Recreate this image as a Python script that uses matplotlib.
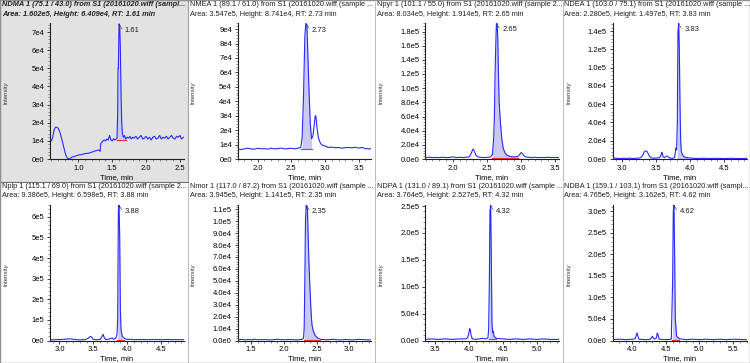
import matplotlib
matplotlib.use('Agg')
import matplotlib.pyplot as plt
from matplotlib.ticker import AutoMinorLocator, FixedLocator, FixedFormatter

plt.rcParams['font.family'] = ['Liberation Sans', 'DejaVu Sans']

# ---------------- data ----------------
titles_line1 = [
    "NDMA 1 (75.1 / 43.0) from S1 (20161020.wiff (sampl...",
    "NMEA 1 (89.1 / 61.0) from S1 (20161020.wiff (sample ...",
    "Npyr 1 (101.1 / 55.0) from S1 (20161020.wiff (sample 2...",
    "NDEA 1 (103.0 / 75.1) from S1 (20161020.wiff (sample ...",
    "Npip 1 (115.1 / 69.0) from S1 (20161020.wiff (sample 2...",
    "Nmor 1 (117.0 / 87.2) from S1 (20161020.wiff (sample ...",
    "NDPA 1 (131.0 / 89.1) from S1 (20161020.wiff (sample ...",
    "NDBA 1 (159.1 / 103.1) from S1 (20161020.wiff (sampl...",
]
titles_line2 = [
    "Area: 1.602e5, Height: 6.409e4, RT: 1.61 min",
    "Area: 3.547e5, Height: 8.741e4, RT: 2.73 min",
    "Area: 8.034e5, Height: 1.914e5, RT: 2.65 min",
    "Area: 2.280e5, Height: 1.497e5, RT: 3.83 min",
    "Area: 9.386e5, Height: 6.598e5, RT: 3.88 min",
    "Area: 3.945e5, Height: 1.141e5, RT: 2.35 min",
    "Area: 3.764e5, Height: 2.527e5, RT: 4.32 min",
    "Area: 4.765e5, Height: 3.162e5, RT: 4.62 min",
]
rt_labels = ["1.61", "2.73", "2.65", "3.83", "3.88", "2.35", "4.32", "4.62"]
rt_values = [1.605, 2.725, 2.645, 3.83, 3.88, 2.345, 4.32, 4.62]
intensity_scale = [1e4, 1e4, 1e4, 1e4, 1e5, 1e4, 1e5, 1e5]

# chromatogram traces: (time [min], intensity [x scale])
ndma = [(0.60,1.0),(0.62,1.2),(0.64,1.6),(0.66,1.75),(0.68,1.75),(0.70,1.7),(0.72,1.55),(0.74,1.3),
        (0.76,1.0),(0.78,0.7),(0.80,0.4),(0.82,0.15),(0.84,0.05),(0.86,0.0),(0.88,0.03),(0.90,0.1),
        (0.95,0.15),(1.00,0.22),(1.05,0.25),(1.10,0.3),(1.15,0.32),(1.20,0.38),(1.25,0.45),(1.30,0.5),
        (1.32,0.42),(1.33,0.85),(1.35,0.95),(1.38,1.05),(1.40,1.0),(1.42,1.1),(1.44,1.05),(1.46,1.3),
        (1.48,1.05),(1.50,1.0),(1.52,1.12),(1.54,1.05),(1.56,1.1),(1.57,1.15),(1.58,2.5),(1.585,5.0),
        (1.59,5.0),(1.60,7.45),(1.61,7.35),(1.62,6.0),(1.63,3.5),(1.64,2.0),(1.65,1.4),(1.66,1.25),
        (1.67,1.2),(1.68,1.3),(1.70,1.1),(1.72,1.2),(1.74,1.15),(1.76,1.25),(1.78,1.1),(1.80,1.2),
        (1.825,1.15),(1.85,1.25),(1.875,1.1),(1.90,1.2),(1.925,1.3),(1.95,1.1),(1.975,1.15),(2.00,1.25),
        (2.025,1.1),(2.05,1.2),(2.075,1.05),(2.10,1.2),(2.125,1.25),(2.15,1.1),(2.175,1.15),(2.20,1.3),
        (2.225,1.1),(2.25,1.2),(2.275,1.15),(2.30,1.25),(2.325,1.1),(2.35,1.2),(2.375,1.3),(2.40,1.15),
        (2.425,1.1),(2.45,1.25),(2.475,1.2),(2.50,1.3),(2.525,1.1),(2.55,1.2)]
nmea = [(1.70,0.7),(1.75,0.65),(1.80,0.7),(1.85,0.75),(1.90,0.7),(1.95,0.68),(2.00,0.75),(2.05,0.7),
        (2.10,0.72),(2.15,0.68),(2.20,0.75),(2.25,0.7),(2.30,0.72),(2.35,0.76),(2.40,0.7),(2.45,0.72),
        (2.50,0.75),(2.55,0.7),(2.60,0.75),(2.64,0.8),(2.66,1.5),(2.68,4.3),(2.70,8.5),(2.715,9.4),
        (2.73,9.3),(2.74,8.0),(2.76,5.0),(2.78,2.5),(2.80,1.4),(2.82,1.6),(2.84,2.4),(2.855,3.0),
        (2.865,2.95),(2.88,2.2),(2.90,1.5),(2.93,1.1),(2.96,0.95),(3.00,0.9),(3.05,0.8),(3.10,0.82),
        (3.15,0.78),(3.20,0.8),(3.25,0.75),(3.30,0.78),(3.35,0.8),(3.40,0.78),(3.45,0.82),(3.50,0.75),
        (3.55,0.8),(3.60,0.72),(3.65,0.7),(3.68,0.72)]
npyr = [(1.59,0.2),(1.65,0.25),(1.70,0.2),(1.75,0.22),(1.80,0.2),(1.85,0.25),(1.90,0.2),(1.95,0.22),
        (2.00,0.3),(2.05,0.2),(2.10,0.25),(2.15,0.2),(2.20,0.25),(2.24,0.3),(2.27,0.8),(2.29,1.3),
        (2.30,1.4),(2.32,1.0),(2.34,0.5),(2.37,0.3),(2.40,0.25),(2.45,0.2),(2.50,0.22),(2.55,0.3),
        (2.58,0.6),(2.60,3.0),(2.61,6.0),(2.62,12.0),(2.63,16.0),(2.64,19.2),(2.65,19.1),(2.66,17.0),
        (2.67,12.0),(2.68,8.0),(2.70,5.0),(2.72,2.8),(2.74,1.5),(2.77,0.8),(2.80,0.5),(2.85,0.35),
        (2.90,0.3),(2.95,0.35),(2.98,0.6),(3.00,0.9),(3.02,0.8),(3.04,0.5),(3.07,0.3),(3.10,0.25),
        (3.15,0.2),(3.20,0.25),(3.25,0.2),(3.30,0.22),(3.35,0.2),(3.40,0.25),(3.45,0.2),(3.50,0.22),
        (3.56,0.2)]
ndea = [(2.86,0.05),(2.90,0.1),(2.95,0.05),(3.00,0.08),(3.05,0.05),(3.10,0.1),(3.15,0.05),(3.20,0.08),
        (3.25,0.1),(3.28,0.2),(3.30,0.4),(3.32,0.75),(3.34,0.88),(3.36,0.85),(3.38,0.6),(3.40,0.3),
        (3.42,0.15),(3.45,0.08),(3.50,0.1),(3.55,0.15),(3.57,0.4),(3.58,0.75),(3.59,0.6),(3.60,0.25),
        (3.62,0.15),(3.645,0.3),(3.66,0.32),(3.68,0.2),(3.70,0.1),(3.74,0.08),(3.77,0.15),(3.79,1.2),
        (3.80,1.0),(3.81,4.0),(3.82,14.0),(3.83,14.9),(3.84,12.0),(3.85,6.0),(3.86,2.0),(3.87,0.8),
        (3.89,0.4),(3.92,0.2),(3.96,0.15),(4.00,0.1),(4.05,0.08),(4.10,0.05),(4.20,0.08),(4.30,0.05),
        (4.40,0.07),(4.50,0.05),(4.60,0.08),(4.70,0.05),(4.83,0.06)]
npip = [(2.86,0.03),(2.95,0.04),(3.05,0.05),(3.10,0.07),(3.15,0.08),(3.20,0.06),(3.25,0.04),(3.30,0.03),
        (3.38,0.04),(3.42,0.1),(3.46,0.2),(3.48,0.15),(3.50,0.05),(3.55,0.04),(3.60,0.05),(3.62,0.15),
        (3.645,0.3),(3.66,0.15),(3.68,0.05),(3.72,0.06),(3.76,0.1),(3.78,0.12),(3.80,0.06),(3.83,0.1),
        (3.85,0.3),(3.86,1.0),(3.87,6.3),(3.88,6.6),(3.89,5.0),(3.90,1.5),(3.91,0.5),(3.93,0.2),
        (3.96,0.1),(4.00,0.05),(4.05,0.06),(4.10,0.04),(4.20,0.05),(4.30,0.04),(4.40,0.05),(4.50,0.04),
        (4.60,0.05),(4.70,0.04),(4.84,0.04)]
nmor = [(1.29,0.05),(1.35,0.1),(1.40,0.05),(1.45,0.08),(1.50,0.05),(1.55,0.1),(1.60,0.06),(1.70,0.08),
        (1.80,0.05),(1.90,0.1),(2.00,0.06),(2.10,0.08),(2.20,0.05),(2.28,0.1),(2.30,0.2),(2.31,1.0),
        (2.32,5.0),(2.33,10.0),(2.34,11.3),(2.345,11.4),(2.36,11.0),(2.37,9.0),(2.38,7.0),(2.39,5.5),
        (2.40,4.2),(2.41,3.0),(2.42,2.0),(2.43,1.3),(2.45,0.8),(2.48,0.4),(2.52,0.2),(2.56,0.1),
        (2.65,0.06),(2.75,0.1),(2.85,0.05),(2.95,0.08),(3.05,0.05),(3.15,0.1),(3.25,0.06),(3.34,0.05)]
ndpa = [(3.35,0.02),(3.45,0.03),(3.55,0.02),(3.65,0.03),(3.75,0.02),(3.85,0.03),(3.95,0.03),(3.98,0.05),
        (4.00,0.15),(4.01,0.22),(4.02,0.2),(4.03,0.1),(4.05,0.03),(4.10,0.02),(4.15,0.03),(4.20,0.04),
        (4.25,0.03),(4.28,0.05),(4.29,0.2),(4.30,1.0),(4.31,2.4),(4.32,2.53),(4.33,1.5),(4.34,0.3),
        (4.35,0.15),(4.36,0.17),(4.37,0.08),(4.40,0.04),(4.50,0.03),(4.60,0.02),(4.70,0.03),(4.80,0.02),
        (4.90,0.03),(5.00,0.02),(5.10,0.03),(5.20,0.02),(5.33,0.02)]
ndba = [(3.71,0.02),(3.80,0.03),(3.90,0.02),(4.00,0.03),(4.04,0.04),(4.06,0.12),(4.07,0.18),(4.08,0.12),
        (4.10,0.03),(4.20,0.02),(4.27,0.03),(4.29,0.08),(4.30,0.1),(4.31,0.06),(4.33,0.03),(4.36,0.06),
        (4.37,0.17),(4.38,0.15),(4.40,0.03),(4.50,0.02),(4.58,0.03),(4.60,1.35),(4.61,3.0),(4.62,3.16),
        (4.63,2.0),(4.64,0.5),(4.66,0.1),(4.70,0.04),(4.80,0.02),(4.90,0.03),(5.00,0.02),(5.10,0.03),
        (5.20,0.02),(5.30,0.03),(5.40,0.02),(5.50,0.03),(5.70,0.02)]
traces = [ndma, nmea, npyr, ndea, npip, nmor, ndpa, ndba]

# integrated peak window (start, end) and baseline level (x scale)
peak_start = [1.57, 2.65, 2.575, 3.805, 3.855, 2.305, 4.295, 4.59]
peak_end = [1.70, 2.81, 2.95, 3.97, 3.95, 2.55, 4.40, 4.70]
peak_base = [1.05, 0.72, 0.2, 0.05, 0.03, 0.05, 0.02, 0.02]

x_ticks = [[1.0, 1.5, 2.0, 2.5], [2.0, 2.5, 3.0, 3.5], [2.0, 2.5, 3.0, 3.5], [3.0, 3.5, 4.0, 4.5],
           [3.0, 3.5, 4.0, 4.5], [1.5, 2.0, 2.5, 3.0], [3.5, 4.0, 4.5, 5.0], [4.0, 4.5, 5.0, 5.5]]
y_ticks = [[0, 1, 2, 3, 4, 5, 6, 7],
           [0, 1, 2, 3, 4, 5, 6, 7, 8, 9],
           [0, 2, 4, 6, 8, 10, 12, 14, 16, 18],
           [0, 2, 4, 6, 8, 10, 12, 14],
           [0, 1, 2, 3, 4, 5, 6],
           [0, 1, 2, 3, 4, 5, 6, 7, 8, 9, 10, 11],
           [0, 0.5, 1.0, 1.5, 2.0, 2.5],
           [0, 0.5, 1.0, 1.5, 2.0, 2.5, 3.0]]
y_tick_labels = [["0e0", "1e4", "2e4", "3e4", "4e4", "5e4", "6e4", "7e4"],
                 ["0e0", "1e4", "2e4", "3e4", "4e4", "5e4", "6e4", "7e4", "8e4", "9e4"],
                 ["0.0e0", "2.0e4", "4.0e4", "6.0e4", "8.0e4", "1.0e5", "1.2e5", "1.4e5", "1.6e5", "1.8e5"],
                 ["0.0e0", "2.0e4", "4.0e4", "6.0e4", "8.0e4", "1.0e5", "1.2e5", "1.4e5"],
                 ["0e0", "1e5", "2e5", "3e5", "4e5", "5e5", "6e5"],
                 ["0.0e0", "1.0e4", "2.0e4", "3.0e4", "4.0e4", "5.0e4", "6.0e4", "7.0e4", "8.0e4", "9.0e4",
                  "1.0e5", "1.1e5"],
                 ["0.0e0", "5.0e4", "1.0e5", "1.5e5", "2.0e5", "2.5e5"],
                 ["0.0e0", "5.0e4", "1.0e5", "1.5e5", "2.0e5", "2.5e5", "3.0e5"]]

# ---------------- layout / style ----------------
W, H = 750, 363
fig = plt.figure(figsize=(W / 100, H / 100), dpi=100)
fig.patch.set_facecolor('white')

x_lims = [(0.58, 2.56), (1.70, 3.69), (1.59, 3.56), (2.855, 4.83),
          (2.86, 4.84), (1.29, 3.34), (3.35, 5.33), (3.705, 5.70)]
y_tops = [7.5, 9.42, 19.2, 14.9, 6.6, 11.4, 2.53, 3.16]
col_x = [0, 187.5, 375, 562.5]
row_y = [0, 181.5]
LINE = '#2828ff'
FILL = '#c9c9f2'
FS = 5.3

def fx(px):
    return px / W

def fy(py):
    return 1 - py / H

# selected panel background
sel = plt.Rectangle((fx(0), fy(181.5)), fx(187.5), 181.5 / H, transform=fig.transFigure,
                    facecolor='#e2e2e2', edgecolor='#707070', lw=0.8, zorder=-10)
fig.add_artist(sel)

for i in range(8):
    r, c = divmod(i, 4)
    px, py = col_x[c], row_y[r]
    # separator lines
    fig.add_artist(plt.Line2D([fx(px + 187.5), fx(px + 187.5)], [fy(py + 2), fy(py + 181)],
                              color='#b0b0b0', lw=0.6, transform=fig.transFigure, zorder=-5))
    ax = fig.add_axes([fx(px + 50), fy(py + 159), fx(134), 136 / H])
    ax.set_facecolor('#e2e2e2' if i == 0 else 'white')
    s = intensity_scale[i]
    t = [p[0] for p in traces[i]]
    y = [p[1] * s for p in traces[i]]
    ax.plot(t, y, color=LINE, lw=0.8, zorder=3)
    # integrated area
    ft = [a for a in t if peak_start[i] <= a <= peak_end[i]]
    fyv = [b for a, b in zip(t, y) if peak_start[i] <= a <= peak_end[i]]
    ax.fill_between(ft, [peak_base[i] * s] * len(ft), fyv, color=FILL, lw=0, zorder=2)
    ax.plot([peak_start[i], peak_end[i]], [peak_base[i] * s] * 2, color='#e03030', lw=0.8, zorder=4)
    ax.set_xlim(*x_lims[i])
    ax.set_ylim(0, y_tops[i] * s)
    for sp in ('top', 'right'):
        ax.spines[sp].set_visible(False)
    for sp in ('left', 'bottom'):
        ax.spines[sp].set_linewidth(0.8)
        ax.spines[sp].set_color('#202020')
    ax.xaxis.set_major_locator(FixedLocator(x_ticks[i]))
    ax.xaxis.set_major_formatter(FixedFormatter([f"{v:.1f}" for v in x_ticks[i]]))
    ax.yaxis.set_major_locator(FixedLocator([v * s for v in y_ticks[i]]))
    ax.yaxis.set_major_formatter(FixedFormatter(y_tick_labels[i]))
    ax.xaxis.set_minor_locator(AutoMinorLocator(5))
    ax.yaxis.set_minor_locator(AutoMinorLocator(5))
    ax.tick_params(which='major', length=2.5, width=0.6, labelsize=FS + 0.2, pad=1.5, color='#202020')
    ax.tick_params(which='minor', length=1.2, width=0.4, color='#404040')
    ax.set_xlabel("Time, min", fontsize=FS + 0.2, labelpad=1.5)
    # RT label with hook
    top = max(y)
    ax.annotate(rt_labels[i], xy=(rt_values[i], top), xytext=(4, -5), textcoords='offset points',
                fontsize=FS + 0.2, va='center', ha='left', color='#202020',
                arrowprops=dict(arrowstyle='-', connectionstyle='arc3,rad=-0.5', lw=0.4,
                                color='#303030', shrinkA=0, shrinkB=1))
    # titles
    weight = 'bold' if i == 0 else 'normal'
    style = 'italic' if i == 0 else 'normal'
    fig.text(fx(px + 2), fy(py + 1.5), titles_line1[i], fontsize=FS, va='top', ha='left', weight=weight,
             style=style, color='#202020')
    fig.text(fx(px + 2), fy(py + 10.5), titles_line2[i], fontsize=FS, va='top', ha='left', weight=weight,
             style=style, color='#202020')
    fig.text(fx(px + 6), fy(py + 93), "Intensity", fontsize=FS - 1.0, rotation=90, va='center',
             ha='center', color='#303030')

# outer border
fig.add_artist(plt.Rectangle((0, 0), 1, 1, transform=fig.transFigure, fill=False,
                             edgecolor='#909090', lw=1.0))
fig.savefig('out.png', dpi=100)
